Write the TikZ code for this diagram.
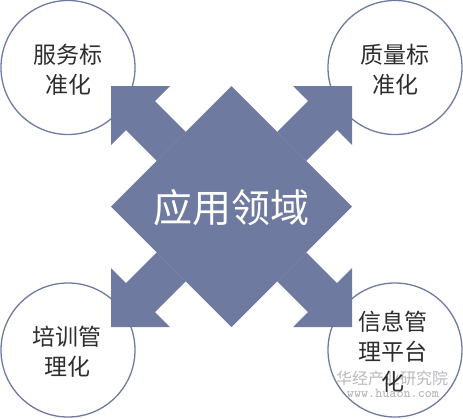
\documentclass[tikz,border=0pt]{standalone}
\usepackage{fontspec}
\newfontfamily\cjk{Noto Sans CJK SC}
\definecolor{slate}{RGB}{110,122,160}
\definecolor{txtgray}{RGB}{45,45,45}
\definecolor{wmgray}{RGB}{185,185,190}
\begin{document}
\begin{tikzpicture}[x=1pt,y=-1pt,
  ring/.style={circle,draw=slate,line width=1.3pt,fill=white,minimum size=134pt,inner sep=0pt},
  ringtext/.style={font=\cjk\fontsize{23}{30}\selectfont,text=txtgray,align=center},
  arrowfill/.style={fill=slate,draw=none}]
\useasboundingbox (0,0) rectangle (463,418);
% circles
\node[ring] (c1) at (68,67.5) {};
\node[ring] (c2) at (395,67.5) {};
\node[ring] (c3) at (68,350) {};
\node[ring] (c4) at (395,350) {};
% watermark
\node[font=\cjk\fontsize{16}{16}\selectfont,text=wmgray] (wm1) at (392,378) {华经产业研究院};
\node[font=\ttfamily\bfseries\fontsize{13.5}{13.5}\selectfont,text=wmgray] (wm2) at (393,393) {www.huaon.com};
% centre shape: diamond with four arrows
\begin{scope}[shift={(231.5,206.5)}]
  \fill[arrowfill] (0,-120.5) -- (120.5,0) -- (0,120.5) -- (-120.5,0) -- cycle;
  \foreach \r in {0,90,180,270}{
    \fill[arrowfill,rotate=\r] (-45.75,-74.75) -- (-76.5,-105.5) -- (-61.5,-120.5) -- (-120.5,-120.5)
      -- (-120.5,-61.5) -- (-105.5,-76.5) -- (-74.75,-45.75) -- cycle;
  }
  \node[font=\cjk\fontsize{39}{39}\selectfont,text=white] (center) at (0,1.5) {应用领域};
\end{scope}
% circle texts
\node[ringtext] (t1) at (68,70) {服务标\\准化};
\node[ringtext] (t2) at (395,70) {质量标\\准化};
\node[ringtext] (t3) at (67,352) {培训管\\理化};
\node[ringtext] (t4) at (393,352) {信息管\\理平台\\化};
\end{tikzpicture}
\end{document}
